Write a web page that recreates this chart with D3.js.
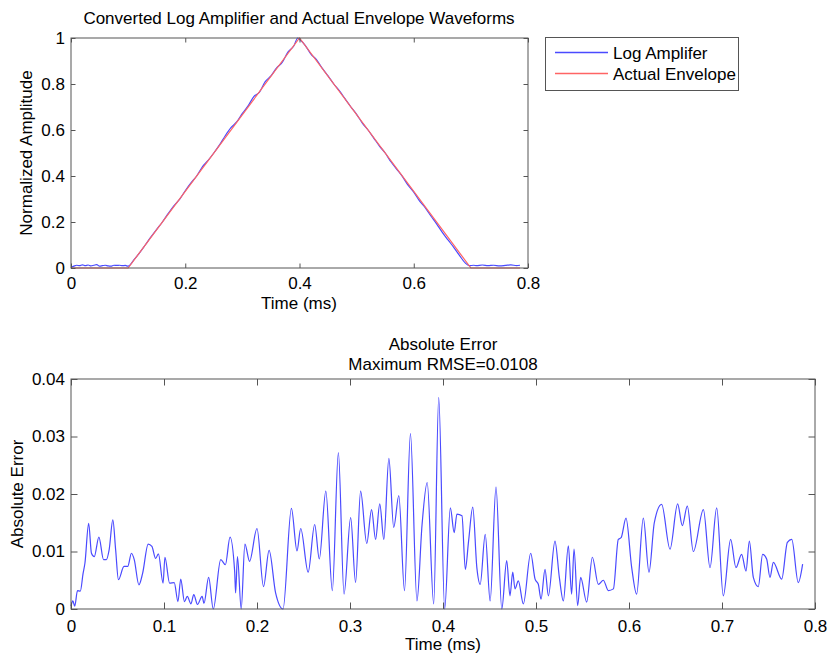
<!DOCTYPE html>
<html>
<head>
<meta charset="utf-8">
<script src="https://cdn.jsdelivr.net/npm/d3@7"></script>
<style>
  html, body { margin: 0; padding: 0; background: #fff; }
  svg { display: block; }
  text { font-family: "Liberation Sans", Arial, Helvetica, sans-serif; fill: #000; }
</style>
</head>
<body>
<svg id="fig" width="830" height="656"></svg>
<script>
// Actual envelope: a triangular pulse (time in ms, normalized amplitude)
const envelopePoints = [[0, 0], [0.1, 0], [0.4, 1], [0.7, 0], [0.786, 0]];

// Converted log-amplifier output, normalized
const logAmpPoints = [
  [0.000, 0.002], [0.005, 0.008], [0.010, 0.012], [0.015, 0.010], [0.020, 0.014],
  [0.025, 0.010], [0.030, 0.013], [0.035, 0.009], [0.040, 0.012], [0.045, 0.015],
  [0.050, 0.008], [0.055, 0.010], [0.060, 0.012], [0.065, 0.009], [0.070, 0.008],
  [0.075, 0.012], [0.080, 0.011], [0.085, 0.012], [0.090, 0.010], [0.095, 0.011],
  [0.100, 0.008], [0.110, 0.035], [0.120, 0.066], [0.130, 0.100], [0.140, 0.135],
  [0.150, 0.168], [0.160, 0.200], [0.170, 0.236], [0.180, 0.270], [0.190, 0.298],
  [0.200, 0.336], [0.210, 0.370], [0.220, 0.400], [0.230, 0.440], [0.240, 0.468],
  [0.250, 0.500], [0.260, 0.535], [0.270, 0.575], [0.280, 0.610], [0.290, 0.635],
  [0.300, 0.672], [0.310, 0.705], [0.320, 0.745], [0.330, 0.765], [0.340, 0.810],
  [0.350, 0.835], [0.360, 0.870], [0.370, 0.895], [0.380, 0.940], [0.390, 0.965],
  [0.397, 1.000], [0.402, 0.990], [0.410, 0.968], [0.420, 0.930], [0.430, 0.905],
  [0.440, 0.868], [0.450, 0.835], [0.460, 0.800], [0.470, 0.770], [0.480, 0.735],
  [0.490, 0.700], [0.500, 0.668], [0.510, 0.630], [0.520, 0.600], [0.530, 0.565],
  [0.540, 0.530], [0.550, 0.500], [0.560, 0.462], [0.570, 0.430], [0.580, 0.398],
  [0.590, 0.360], [0.600, 0.330], [0.610, 0.292], [0.620, 0.262], [0.630, 0.226],
  [0.640, 0.192], [0.650, 0.155], [0.660, 0.122], [0.670, 0.090], [0.680, 0.055],
  [0.690, 0.022], [0.697, 0.010], [0.705, 0.012], [0.710, 0.010], [0.720, 0.013],
  [0.730, 0.010], [0.740, 0.012], [0.750, 0.009], [0.760, 0.011], [0.770, 0.014],
  [0.780, 0.010], [0.786, 0.012]
];

// Absolute error between the two waveforms
const errorPoints = [
  [0.000, 0.0005], [0.002, 0.0014], [0.004, 0.0005], [0.007, 0.0032], [0.010, 0.0031],
  [0.013, 0.0062], [0.015, 0.0080], [0.019, 0.0149], [0.022, 0.0097], [0.025, 0.0091],
  [0.030, 0.0125], [0.035, 0.0086], [0.038, 0.0086], [0.041, 0.0103], [0.045, 0.0155],
  [0.048, 0.0103], [0.051, 0.0051], [0.057, 0.0074], [0.061, 0.0074], [0.065, 0.0097],
  [0.068, 0.0086], [0.073, 0.0042], [0.077, 0.0062], [0.083, 0.0113], [0.087, 0.0109],
  [0.091, 0.0088], [0.094, 0.0096], [0.099, 0.0045], [0.101, 0.0090], [0.106, 0.0045],
  [0.111, 0.0046], [0.115, 0.0013], [0.118, 0.0052], [0.122, 0.0013], [0.125, 0.0022],
  [0.129, 0.0009], [0.132, 0.0025], [0.136, 0.0008], [0.141, 0.0022], [0.143, 0.0010],
  [0.148, 0.0055], [0.153, 0.0000], [0.161, 0.0086], [0.166, 0.0077], [0.171, 0.0125],
  [0.176, 0.0065], [0.177, 0.0028], [0.179, 0.0091], [0.183, 0.0000], [0.187, 0.0113],
  [0.192, 0.0083], [0.200, 0.0140], [0.207, 0.0039], [0.213, 0.0102], [0.220, 0.0028],
  [0.228, 0.0000], [0.237, 0.0175], [0.243, 0.0101], [0.247, 0.0140], [0.255, 0.0064],
  [0.262, 0.0147], [0.267, 0.0087], [0.274, 0.0205], [0.281, 0.0032], [0.2875, 0.0272],
  [0.2936, 0.0026], [0.3007, 0.0159], [0.306, 0.0046], [0.3114, 0.0205], [0.318, 0.0114],
  [0.3232, 0.0173], [0.3275, 0.0121], [0.332, 0.0183], [0.3364, 0.0121], [0.3418, 0.0262],
  [0.347, 0.0142], [0.3525, 0.0197], [0.3586, 0.0032], [0.365, 0.0305], [0.372, 0.0014],
  [0.3775, 0.0147], [0.383, 0.0220], [0.390, 0.0009], [0.3954, 0.0368], [0.4018, 0.0000],
  [0.4079, 0.0176], [0.412, 0.0133], [0.415, 0.0165], [0.4204, 0.0162], [0.424, 0.0069],
  [0.4275, 0.0118], [0.432, 0.0177], [0.4364, 0.0072], [0.440, 0.0043], [0.4454, 0.0130],
  [0.4507, 0.0014], [0.457, 0.0212], [0.4632, 0.0000], [0.4685, 0.0084], [0.472, 0.0023],
  [0.475, 0.0064], [0.4774, 0.0035], [0.481, 0.0049], [0.4864, 0.0009], [0.4943, 0.0097],
  [0.499, 0.0052], [0.5025, 0.0043], [0.5054, 0.0017], [0.5097, 0.0069], [0.5133, 0.0023],
  [0.5204, 0.0118], [0.5251, 0.0055], [0.5294, 0.0014], [0.5348, 0.0110], [0.5383, 0.0026],
  [0.5409, 0.0104], [0.5448, 0.0006], [0.548, 0.0055], [0.5545, 0.0012], [0.5606, 0.0090],
  [0.567, 0.0043], [0.5724, 0.0050], [0.5778, 0.0032], [0.5832, 0.0035], [0.5885, 0.0121],
  [0.5915, 0.0124], [0.5968, 0.0158], [0.6029, 0.0072], [0.6082, 0.0026], [0.6154, 0.0158],
  [0.6215, 0.0064], [0.6272, 0.0150], [0.6351, 0.0182], [0.6441, 0.0104], [0.6523, 0.0183],
  [0.6573, 0.0145], [0.6627, 0.0179], [0.6692, 0.0100], [0.6800, 0.0173], [0.6871, 0.0072],
  [0.6943, 0.0176], [0.7014, 0.0023], [0.7093, 0.0121], [0.7150, 0.0072], [0.7211, 0.0095],
  [0.7258, 0.0066], [0.7294, 0.0118], [0.7337, 0.0055], [0.7390, 0.0039], [0.7437, 0.0095],
  [0.7480, 0.0087], [0.7516, 0.0055], [0.7552, 0.0081], [0.7642, 0.0052], [0.7703, 0.0116],
  [0.7750, 0.0121], [0.7820, 0.0046], [0.7867, 0.0078]
];

const topXTicks = [0, 0.2, 0.4, 0.6, 0.8];
const topYTicks = [0, 0.2, 0.4, 0.6, 0.8, 1];
const bottomXTicks = [0, 0.1, 0.2, 0.3, 0.4, 0.5, 0.6, 0.7, 0.8];
const bottomYTicks = [0, 0.01, 0.02, 0.03, 0.04];

const seriesNames = ["Log Amplifer", "Actual Envelope"];
const seriesColors = ["#4a4aff", "#ff6464"];

const svg = d3.select("#fig");
const FONT = 17;
const AXIS_COLOR = "#555";

function fmt(v) { return v === 0 ? "0" : String(+v.toFixed(3)); }

// Draws a boxed axes frame with inward ticks on all four sides
function boxedAxes(g, x, y, xTicks, yTicks, tickLen, xPad) {
  const [x0, x1] = x.range();
  const [y0, y1] = y.range(); // y0 bottom, y1 top

  const bottom = g.append("g").attr("transform", `translate(0,${y0})`)
    .call(d3.axisBottom(x).tickValues(xTicks).tickFormat(fmt).tickSizeInner(-tickLen).tickSizeOuter(0).tickPadding(xPad));
  const top = g.append("g").attr("transform", `translate(0,${y1})`)
    .call(d3.axisTop(x).tickValues(xTicks).tickFormat("").tickSizeInner(-tickLen).tickSizeOuter(0));
  const left = g.append("g").attr("transform", `translate(${x0},0)`)
    .call(d3.axisLeft(y).tickValues(yTicks).tickFormat(fmt).tickSizeInner(-tickLen).tickSizeOuter(0).tickPadding(6));
  const right = g.append("g").attr("transform", `translate(${x1},0)`)
    .call(d3.axisRight(y).tickValues(yTicks).tickFormat("").tickSizeInner(-tickLen).tickSizeOuter(0));

  [bottom, top, left, right].forEach(a => {
    a.select(".domain").remove();
    a.selectAll(".tick line").attr("stroke", AXIS_COLOR);
    a.selectAll(".tick text").attr("font-size", FONT).attr("fill", "#000")
      .attr("font-family", '"Liberation Sans", Arial, sans-serif');
  });

  g.append("rect")
    .attr("x", x0).attr("y", y1)
    .attr("width", x1 - x0).attr("height", y0 - y1)
    .attr("fill", "none").attr("stroke", AXIS_COLOR).attr("stroke-width", 1);
}

// ---------- Upper panel: waveforms ----------
const gTop = svg.append("g");
const xTop = d3.scaleLinear().domain([0, 0.8]).range([71, 528]);
const yTop = d3.scaleLinear().domain([0, 1]).range([268, 38]);

gTop.append("path").datum(logAmpPoints)
  .attr("d", d3.line().x(d => xTop(d[0])).y(d => yTop(d[1])).curve(d3.curveMonotoneX))
  .attr("fill", "none").attr("stroke", seriesColors[0]).attr("stroke-width", 1.2);
gTop.append("path").datum(envelopePoints)
  .attr("d", d3.line().x(d => xTop(d[0])).y(d => yTop(d[1])))
  .attr("fill", "none").attr("stroke", seriesColors[1]).attr("stroke-width", 1.2);

boxedAxes(gTop, xTop, yTop, topXTicks, topYTicks, 4.5, 9);

gTop.append("text").attr("x", 299).attr("y", 24).attr("text-anchor", "middle")
  .attr("font-size", FONT).text("Converted Log Amplifier and Actual Envelope Waveforms");
gTop.append("text").attr("x", 299).attr("y", 309).attr("text-anchor", "middle")
  .attr("font-size", FONT).text("Time (ms)");
gTop.append("text").attr("transform", "translate(32,153) rotate(-90)").attr("text-anchor", "middle")
  .attr("font-size", FONT).text("Normalized Amplitude");

// Legend
const legend = svg.append("g");
legend.append("rect").attr("x", 545.5).attr("y", 37.5).attr("width", 193).attr("height", 53)
  .attr("fill", "#fff").attr("stroke", AXIS_COLOR).attr("stroke-width", 1);
seriesNames.forEach((name, i) => {
  const ly = 52.5 + i * 21;
  legend.append("line").attr("x1", 555).attr("x2", 608).attr("y1", ly).attr("y2", ly)
    .attr("stroke", seriesColors[i]).attr("stroke-width", 1.3);
  legend.append("text").attr("x", 613).attr("y", ly + 6).attr("font-size", FONT).text(name);
});

// ---------- Lower panel: absolute error ----------
const gBot = svg.append("g");
const xBot = d3.scaleLinear().domain([0, 0.8]).range([71, 815]);
const yBot = d3.scaleLinear().domain([0, 0.04]).range([609, 379]);

gBot.append("path").datum(errorPoints)
  .attr("d", d3.line().x(d => xBot(d[0])).y(d => yBot(d[1])).curve(d3.curveMonotoneX))
  .attr("fill", "none").attr("stroke", seriesColors[0]).attr("stroke-width", 1.2);

boxedAxes(gBot, xBot, yBot, bottomXTicks, bottomYTicks, 6.5, 11);

gBot.append("text").attr("x", 443).attr("y", 350).attr("text-anchor", "middle")
  .attr("font-size", FONT).text("Absolute Error");
gBot.append("text").attr("x", 443).attr("y", 369.5).attr("text-anchor", "middle")
  .attr("font-size", FONT).text("Maximum RMSE=0.0108");
gBot.append("text").attr("x", 443).attr("y", 650).attr("text-anchor", "middle")
  .attr("font-size", FONT).text("Time (ms)");
gBot.append("text").attr("transform", "translate(23,494) rotate(-90)").attr("text-anchor", "middle")
  .attr("font-size", FONT).text("Absolute Error");
</script>
</body>
</html>
